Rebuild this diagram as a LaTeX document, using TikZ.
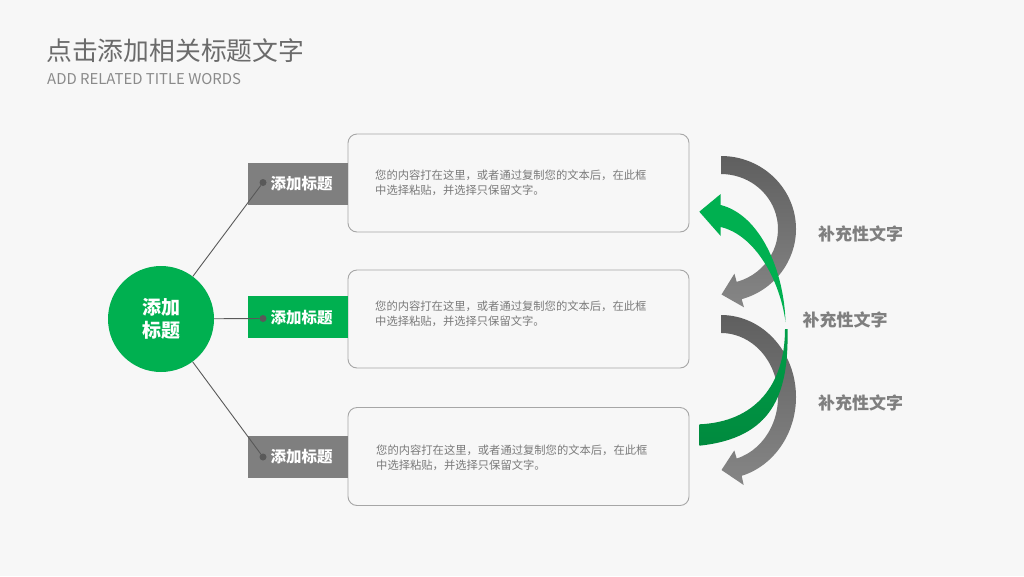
\documentclass[tikz,border=0pt]{standalone}
\usepackage{fontspec}
\setmainfont{Noto Sans CJK SC}
\definecolor{bg}{HTML}{F7F7F7}
\definecolor{grn}{HTML}{00B050}
\definecolor{grnA}{HTML}{009E48}
\definecolor{grnB}{HTML}{008A3E}
\definecolor{gry}{HTML}{7F7F7F}
\definecolor{gryA}{HTML}{5F5F5F}
\definecolor{gryB}{HTML}{868686}
\definecolor{titlegray}{HTML}{6B6B6B}
\definecolor{subgray}{HTML}{8A8A8A}
\definecolor{bodygray}{HTML}{7A7A7A}
\definecolor{boxline}{HTML}{A6A6A6}
\definecolor{dotc}{HTML}{595959}
\begin{document}
\begin{tikzpicture}[x=1pt,y=-1pt,
  labbox/.style={rectangle, minimum width=100pt, minimum height=42pt, inner sep=0},
  labtext/.style={inner sep=0, text=white, font=\bfseries\fontsize{15.5}{18}\selectfont},
  txtbox/.style={draw=boxline, line width=0.9pt, fill=bg, rounded corners=9pt, minimum width=341pt, minimum height=98pt, inner sep=0},
  bodytext/.style={anchor=west, inner sep=0, align=left, text=bodygray, font=\fontsize{11.3}{15}\selectfont},
  dotnode/.style={circle, fill=dotc, minimum size=7pt, inner sep=0},
  conn/.style={draw=dotc, line width=0.9pt},
  sidetext/.style={inner sep=0, text=gry, font=\bfseries\fontsize{17}{20}\selectfont}]
\useasboundingbox (0,0) rectangle (1024,576);
\fill[bg] (0,0) rectangle (1024,576);

% title
\node[anchor=west, inner sep=0, text=titlegray, font=\fontsize{25.8}{30}\selectfont] (title) at (46,51) {点击添加相关标题文字};
\node[anchor=west, inner sep=0, text=subgray, font=\fontsize{14.9}{17}\selectfont] (sub) at (47,79) {ADD RELATED TITLE WORDS};

% text boxes
\node[txtbox] (b1) at (518.5,183) {};
\node[txtbox] (b2) at (518.5,319) {};
\node[txtbox] (b3) at (518.5,456.5) {};
\node[bodytext] (t1) at (375,182.5) {您的内容打在这里，或者通过复制您的文本后，在此框\\中选择粘贴，并选择只保留文字。};
\node[bodytext] (t2) at (375,313.5) {您的内容打在这里，或者通过复制您的文本后，在此框\\中选择粘贴，并选择只保留文字。};
\node[bodytext] (t3) at (376,458) {您的内容打在这里，或者通过复制您的文本后，在此框\\中选择粘贴，并选择只保留文字。};

% label rectangles
\node[labbox, fill=gry] (r1) at (297.5,183.5) {};
\node[labbox, fill=grn] (r2) at (297.5,317) {};
\node[labbox, fill=gry] (r3) at (297.5,457) {};
\node[labtext] (l1) at (301.7,183.5) {添加标题};
\node[labtext] (l2) at (301.7,317.5) {添加标题};
\node[labtext] (l3) at (301.7,456.5) {添加标题};

% hub
\node[circle, fill=grn, minimum size=106pt, inner sep=0, text=white, align=center,
      font=\bfseries\fontsize{19}{22.5}\selectfont] (hub) at (161,319) {添加\\标题};

% dots and connectors
\node[dotnode] (d1) at (263,182.5) {};
\node[dotnode] (d2) at (263,318.5) {};
\node[dotnode] (d3) at (263,457) {};
\draw[conn] (hub) -- (d1);
\draw[conn] (hub) -- (d2);
\draw[conn] (hub) -- (d3);

% gray curved arrows
\shade[top color=gryA, bottom color=gryB]
  (721,156) arc[start angle=-90, end angle=74, x radius=75, y radius=73]
  -- (744,307.3) -- (721.5,294.5) -- (734.4,273.7) -- (736.7,281.9)
  arc[start angle=74, end angle=-90, x radius=57, y radius=55] -- cycle;
\shade[top color=gryA, bottom color=gryB]
  (721,315) arc[start angle=-90, end angle=74, x radius=75, y radius=82]
  -- (743.7,485) -- (721.5,470) -- (734.3,450.4) -- (736.7,458.5)
  arc[start angle=74, end angle=-90, x radius=57, y radius=64] -- cycle;

% green arrow, lower part
\shade[top color=grnA, bottom color=grnB]
  (785,329) .. controls (785,385) and (755,422) .. (699.3,424.3)
  -- (699.3,445.7) .. controls (772,438) and (789,395) .. (787.5,329) -- cycle;
% green arrow, upper part with head
\fill[grn]
  (720.7,205) .. controls (760,215) and (784,270) .. (785.5,322)
  .. controls (780,280) and (755,235) .. (720.7,227)
  -- (720.7,236) -- (699.3,211.7) -- (720.7,194) -- cycle;

% side labels
\node[sidetext] (s1) at (860.5,233.5) {补充性文字};
\node[sidetext] (s2) at (845,319.5) {补充性文字};
\node[sidetext] (s3) at (860.5,403) {补充性文字};
\end{tikzpicture}
\end{document}
